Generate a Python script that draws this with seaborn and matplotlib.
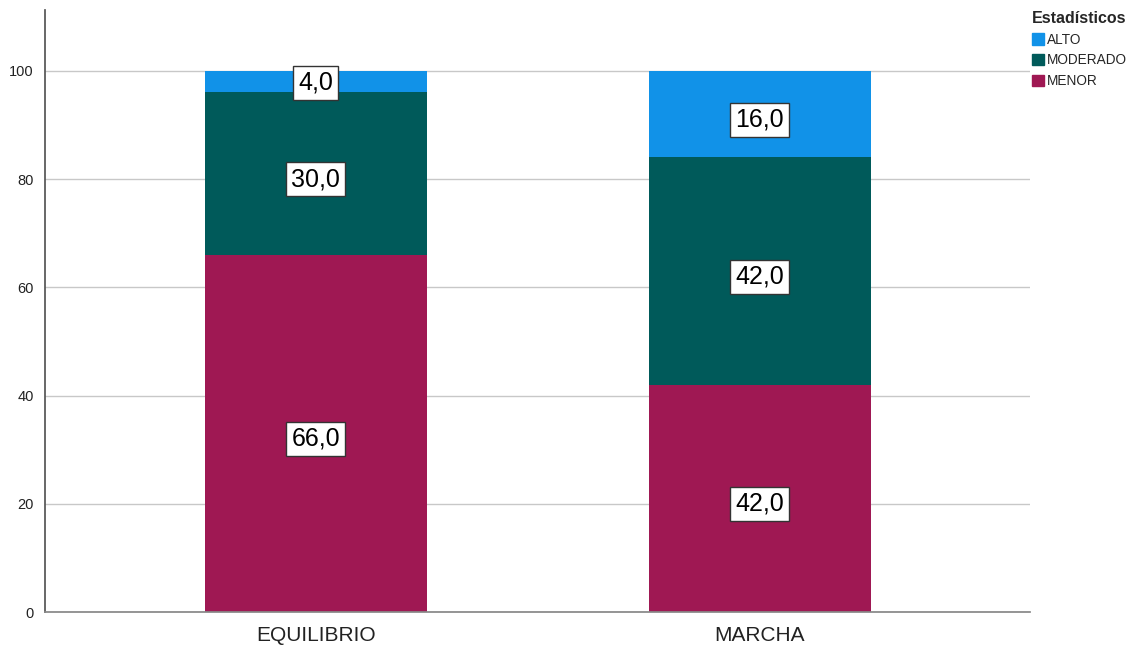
import matplotlib
matplotlib.use("Agg")
import matplotlib.pyplot as plt
import seaborn as sns
import numpy as np
import pandas as pd

categories = ["EQUILIBRIO", "MARCHA"]
levels = ["MENOR", "MODERADO", "ALTO"]
menor = [66.0, 42.0]
moderado = [30.0, 42.0]
alto = [4.0, 16.0]
colors = {"ALTO": "#1192E8", "MODERADO": "#005A5A", "MENOR": "#9F1853"}

sns.set_theme(style="white")
plt.rcParams["font.family"] = ["Liberation Sans", "DejaVu Sans"]

values = {"MENOR": menor, "MODERADO": moderado, "ALTO": alto}
stack = np.vstack([values[l] for l in levels])
tops = np.cumsum(stack, axis=0)

fig = plt.figure(figsize=(11.36, 6.45), dpi=100)
ax = fig.add_axes([0.0396, 0.051, 0.8675, 0.934])

# Stacked bars: draw cumulative totals from the top layer down
for i in reversed(range(len(levels))):
    df = pd.DataFrame({"cat": categories, "val": tops[i]})
    sns.barplot(data=df, x="cat", y="val", color=colors[levels[i]],
                saturation=1, width=0.5, ax=ax, zorder=2, linewidth=0)

# Value labels in each segment
for i, lvl in enumerate(levels):
    for j in range(len(categories)):
        v = stack[i, j]
        y = tops[i, j] - v / 2 - (1.0 if v > 8 else 0.2)
        ax.text(j, y, f"{v:.1f}".replace(".", ","), ha="center", va="center",
                fontsize=18, color="black", zorder=5,
                bbox=dict(boxstyle="square,pad=0.2", fc="white", ec="#333333", lw=1))

ax.set_xlim(-0.61, 1.61)
ax.set_ylim(0, 111.3)
ax.set_yticks([0, 20, 40, 60, 80, 100])
ax.yaxis.grid(True, color="#c8c8c8", lw=1, zorder=0)
ax.set_axisbelow(True)
ax.set_xlabel("")
ax.set_ylabel("")
ax.tick_params(axis="y", labelsize=10.5, length=0, pad=8, colors="#222222")
ax.tick_params(axis="x", labelsize=15, length=0, pad=10, colors="#222222")
for s in ["top", "right"]:
    ax.spines[s].set_visible(False)
ax.spines["left"].set_color("#555555")
ax.spines["bottom"].set_color("#888888")

handles = [plt.Rectangle((0, 0), 1, 1, color=colors[l]) for l in ["ALTO", "MODERADO", "MENOR"]]
leg = fig.legend(handles, ["ALTO", "MODERADO", "MENOR"], title="Estadísticos",
                 loc="upper left", bbox_to_anchor=(0.9, 0.998), frameon=False,
                 fontsize=9.8, title_fontproperties={"weight": "bold", "size": 11.5},
                 handlelength=0.9, handleheight=0.9, handletextpad=0.2,
                 labelspacing=0.5, borderpad=0.2)
leg._legend_box.align = "left"

fig.savefig("out.png", dpi=100)
